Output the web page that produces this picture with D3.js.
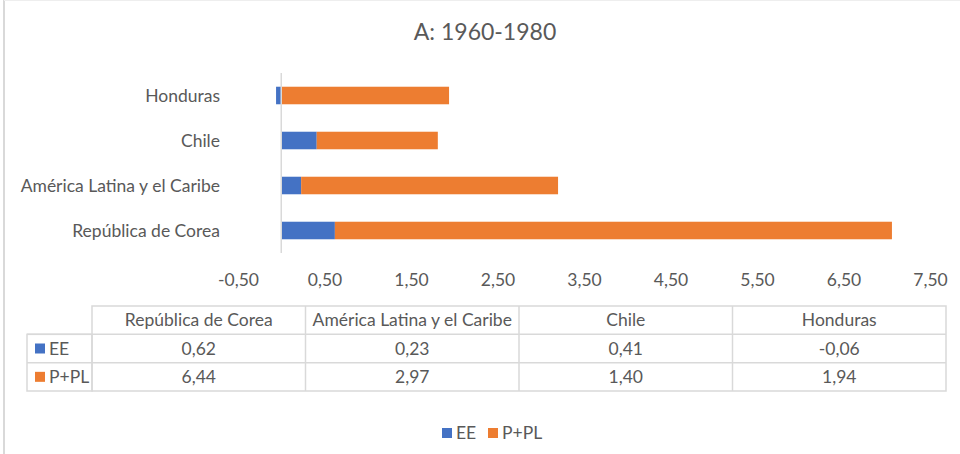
<!DOCTYPE html>
<html>
<head>
<meta charset="utf-8">
<script src="https://cdn.jsdelivr.net/npm/d3@7"></script>
<style>
  body { margin: 0; background: #fff; }
  text { font-family: Lato, "Liberation Sans", sans-serif; fill: #595959; }
</style>
</head>
<body>
<svg id="chart" width="960" height="454"></svg>
<script>
// data
var categories = ['República de Corea', 'América Latina y el Caribe', 'Chile', 'Honduras']
var series_names = ['EE', 'P+PL']
var ee_values = [0.62, 0.23, 0.41, -0.06]
var ppl_values = [6.44, 2.97, 1.40, 1.94]
var tick_values = [-0.5, 0.5, 1.5, 2.5, 3.5, 4.5, 5.5, 6.5, 7.5]
var colors = ['#4472C4', '#ED7D31']

var font_size = 17.5
var locale = d3.formatLocale({decimal: ',', thousands: '.', grouping: [3], currency: ['', ''], minus: '-'})
var fmt = locale.format('.2f')

var rows = categories.map(function(c, i) {
  return {cat: c, 'EE': ee_values[i], 'P+PL': ppl_values[i]}
})

var svg = d3.select('#chart')

// chart frame
svg.append('line').attr('x1', 4).attr('x2', 4).attr('y1', 0).attr('y2', 454)
  .attr('stroke', '#d9d9d9').attr('stroke-width', 2)
svg.append('line').attr('x1', 4).attr('x2', 960).attr('y1', 0.5).attr('y2', 0.5)
  .attr('stroke', '#eeeeee').attr('stroke-width', 1)

svg.append('text')
  .attr('x', 485).attr('y', 40)
  .attr('text-anchor', 'middle')
  .attr('font-size', 23)
  .text('A: 1960-1980')

var x = d3.scaleLinear().domain([-0.5, 7.5]).range([238, 930])
var y = d3.scaleBand().domain(categories.slice().reverse()).range([73, 253]).paddingInner(0.61).paddingOuter(0.305)

var stack = d3.stack().keys(series_names).offset(d3.stackOffsetDiverging)
var stacked = stack(rows)

svg.append('g').selectAll('g')
  .data(stacked)
  .join('g')
  .attr('fill', function(d, i) { return colors[i] })
  .selectAll('rect')
  .data(function(d) { return d })
  .join('rect')
  .attr('x', function(d) { return x(Math.min(d[0], d[1])) })
  .attr('width', function(d) { return Math.abs(x(d[1]) - x(d[0])) })
  .attr('y', function(d) { return y(d.data.cat) })
  .attr('height', y.bandwidth())

// zero line
svg.append('line')
  .attr('x1', x(0)).attr('x2', x(0)).attr('y1', 73).attr('y2', 253)
  .attr('stroke', '#d9d9d9').attr('stroke-width', 1.5)

// category labels
svg.append('g').selectAll('text')
  .data(categories)
  .join('text')
  .attr('x', 220)
  .attr('y', function(d) { return y(d) + y.bandwidth() / 2 })
  .attr('dy', '0.35em')
  .attr('text-anchor', 'end')
  .attr('font-size', font_size)
  .text(function(d) { return d })

// x axis
var xAxis = d3.axisBottom(x).tickValues(tick_values).tickFormat(fmt).tickSize(0).tickPadding(0)
var gx = svg.append('g').attr('transform', 'translate(0,274)').call(xAxis)
gx.select('.domain').remove()
gx.selectAll('text').attr('font-size', font_size).attr('fill', '#595959')
  .style('font-family', 'Lato, "Liberation Sans", sans-serif')

// data table
var col_x = d3.scaleBand().domain(categories).range([92, 946])
var row_y = d3.scaleBand().domain(['head'].concat(series_names)).range([306, 391])
var grid = svg.append('g').attr('stroke', '#d9d9d9').attr('stroke-width', 1.5).attr('fill', 'none')

grid.append('rect').attr('x', 92).attr('y', 306).attr('width', 854).attr('height', 85)
grid.append('rect').attr('x', 27).attr('y', row_y('EE')).attr('width', 65).attr('height', row_y.bandwidth() * 2)
grid.selectAll('line.col')
  .data(categories.slice(1))
  .join('line')
  .attr('x1', function(d) { return col_x(d) }).attr('x2', function(d) { return col_x(d) })
  .attr('y1', 306).attr('y2', 391)
grid.selectAll('line.row')
  .data(series_names)
  .join('line')
  .attr('x1', 27).attr('x2', 946)
  .attr('y1', function(d) { return row_y(d) }).attr('y2', function(d) { return row_y(d) })

svg.append('g').selectAll('text')
  .data(categories)
  .join('text')
  .attr('x', function(d) { return col_x(d) + col_x.bandwidth() / 2 })
  .attr('y', row_y('head') + row_y.bandwidth() / 2)
  .attr('dy', '0.35em')
  .attr('text-anchor', 'middle')
  .attr('font-size', font_size)
  .text(function(d) { return d })

var values_by_series = {'EE': ee_values, 'P+PL': ppl_values}
series_names.forEach(function(s, si) {
  var cy = row_y(s) + row_y.bandwidth() / 2
  svg.append('rect').attr('x', 35).attr('y', cy - 5).attr('width', 10).attr('height', 10).attr('fill', colors[si])
  svg.append('text').attr('x', 49).attr('y', cy).attr('dy', '0.35em').attr('font-size', font_size).text(s)
  svg.append('g').selectAll('text')
    .data(values_by_series[s])
    .join('text')
    .attr('x', function(d, i) { return col_x(categories[i]) + col_x.bandwidth() / 2 })
    .attr('y', cy)
    .attr('dy', '0.35em')
    .attr('text-anchor', 'middle')
    .attr('font-size', font_size)
    .text(function(d) { return fmt(d) })
})

// legend
var legend_x = [442, 488]
series_names.forEach(function(s, si) {
  svg.append('rect').attr('x', legend_x[si]).attr('y', 428).attr('width', 10).attr('height', 10).attr('fill', colors[si])
  svg.append('text').attr('x', legend_x[si] + 14).attr('y', 433).attr('dy', '0.35em').attr('font-size', font_size).text(s)
})
</script>
</body>
</html>
